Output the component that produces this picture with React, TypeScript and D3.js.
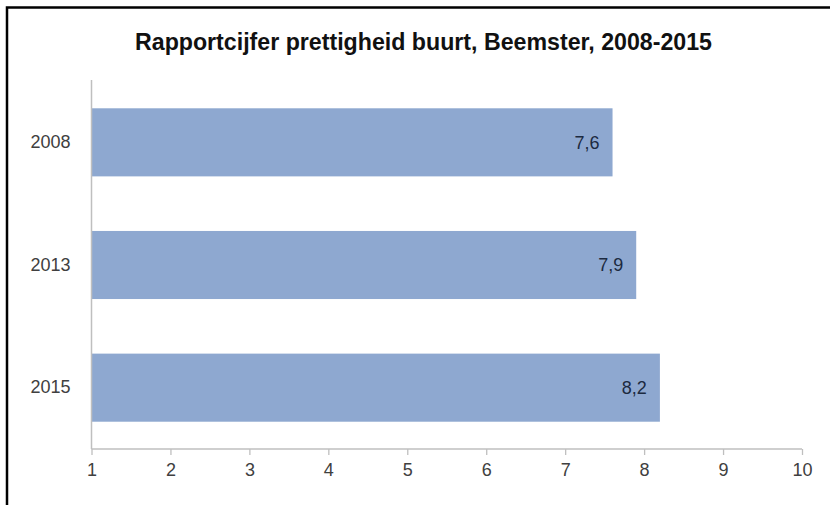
import { useEffect, useRef } from 'react';
import * as d3 from 'd3';

const years = ['2008', '2013', '2015'];
const scores = [7.6, 7.9, 8.2];
const xTicks = [1, 2, 3, 4, 5, 6, 7, 8, 9, 10];
const title = 'Rapportcijfer prettigheid buurt, Beemster, 2008-2015';

const W = 830;
const H = 505;

const App = () => {
  const svgRef = useRef<SVGSVGElement>(null);

  useEffect(() => {
    const svg = d3.select(svgRef.current);
    svg.selectAll('*').remove(); // start clean

    const x = d3.scaleLinear().domain([1, 10]).range([91.5, 802]);
    const y = d3.scaleBand().domain(years).range([81, 449]).paddingInner(0.445).paddingOuter(0.2225);

    svg.append('rect').attr('width', W).attr('height', H).attr('fill', '#fff');

    // frame (top + left only, rest is cropped)
    svg.append('path')
      .attr('d', `M7,${H} V7.5 H${W}`)
      .attr('fill', 'none')
      .attr('stroke', '#000')
      .attr('stroke-width', 2.5);

    svg.append('text')
      .attr('x', 135)
      .attr('y', 50)
      .attr('textLength', 577)
      .attr('lengthAdjust', 'spacingAndGlyphs')
      .attr('font-family', 'Liberation Sans, Arial, sans-serif')
      .attr('font-weight', 'bold')
      .attr('font-size', 23)
      .attr('fill', '#111')
      .text(title);

    const font = 'Liberation Sans, Arial, sans-serif';

    // bars
    svg.append('g')
      .selectAll('rect')
      .data(scores)
      .join('rect')
      .attr('x', x(1))
      .attr('y', (d, i) => y(years[i]))
      .attr('width', d => x(d) - x(1))
      .attr('height', y.bandwidth())
      .attr('fill', '#8ea8d0');

    // value labels
    svg.append('g')
      .selectAll('text')
      .data(scores)
      .join('text')
      .attr('x', d => x(d) - 13)
      .attr('y', (d, i) => y(years[i]) + y.bandwidth() / 2)
      .attr('dy', '0.35em')
      .attr('text-anchor', 'end')
      .attr('font-family', font)
      .attr('font-size', 18)
      .attr('fill', '#1c2a40')
      .text(d => d.toFixed(1).replace('.', ','));

    // x axis
    const xAxis = svg.append('g')
      .attr('transform', 'translate(0,449)')
      .call(d3.axisBottom(x).tickValues(xTicks).tickSize(6).tickPadding(8).tickFormat(d3.format('d')));
    xAxis.select('.domain').attr('stroke', '#bfbfbf').attr('stroke-width', 1.5).attr('d', `M${x(1)},0H${x(10)}`);
    xAxis.selectAll('.tick line').attr('stroke', '#bfbfbf').attr('stroke-width', 1.3);
    xAxis.selectAll('.tick text')
      .attr('font-family', font)
      .attr('font-size', 18)
      .attr('fill', '#404040');

    // y axis
    const yAxis = svg.append('g')
      .attr('transform', `translate(${x(1)},0)`)
      .call(d3.axisLeft(y).tickSize(0).tickPadding(21));
    yAxis.select('.domain').attr('stroke', '#bfbfbf').attr('stroke-width', 1.5).attr('d', 'M0,80V449');
    yAxis.selectAll('.tick text')
      .attr('font-family', font)
      .attr('font-size', 18)
      .attr('fill', '#404040');
  }, []);

  return (
    <svg
      ref={svgRef}
      width={W}
      height={H}
      style={{ position: 'absolute', left: 0, top: 0, display: 'block' }}
    />
  );
};

export default App;
